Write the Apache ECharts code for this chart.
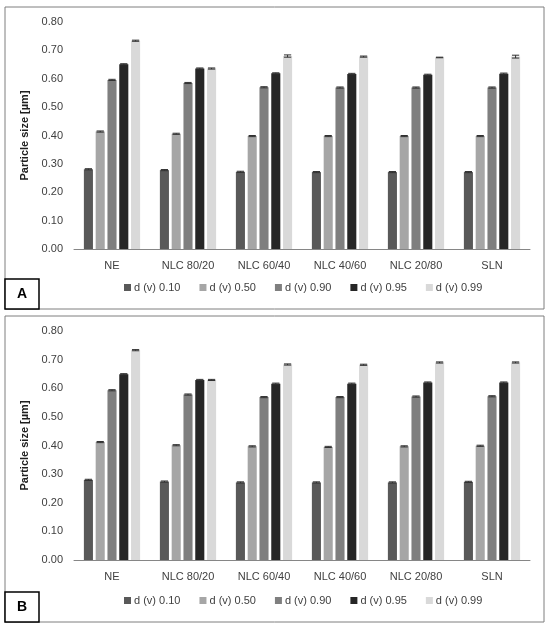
<!DOCTYPE html>
<html lang="en">
<head>
<meta charset="UTF-8">
<title>Particle size</title>
<script src="https://cdn.jsdelivr.net/npm/echarts@6/dist/echarts.min.js"></script>
<style>
  html, body { margin: 0; padding: 0; background: #fff; }
  #main { width: 550px; height: 628px; }
</style>
</head>
<body>
<div id="main"></div>
<script>
// categories and series names
var categories = ['NE', 'NLC 80/20', 'NLC 60/40', 'NLC 40/60', 'NLC 20/80', 'SLN'];
var seriesNames = ['d (v) 0.10', 'd (v) 0.50', 'd (v) 0.90', 'd (v) 0.95', 'd (v) 0.99'];
var yTicks = [0, 0.8, 0.1]; // min, max, step

// panel A values (µm)
var d10A = [0.281, 0.278, 0.272, 0.271, 0.271, 0.271];
var d50A = [0.414, 0.406, 0.398, 0.398, 0.398, 0.398];
var d90A = [0.596, 0.585, 0.570, 0.569, 0.569, 0.569];
var d95A = [0.651, 0.636, 0.619, 0.617, 0.614, 0.618];
var d99A = [0.734, 0.636, 0.680, 0.678, 0.675, 0.678];
// panel A standard deviations (one row per series)
var errA = [
  [0.002, 0.002, 0.002, 0.002, 0.002, 0.002],
  [0.002, 0.002, 0.002, 0.002, 0.002, 0.002],
  [0.002, 0.002, 0.002, 0.002, 0.002, 0.002],
  [0.002, 0.002, 0.002, 0.002, 0.002, 0.002],
  [0.002, 0.002, 0.004, 0.002, 0.001, 0.005]
];

// panel B values (µm)
var d10B = [0.280, 0.274, 0.271, 0.271, 0.271, 0.273];
var d50B = [0.412, 0.401, 0.397, 0.395, 0.397, 0.399];
var d90B = [0.593, 0.578, 0.569, 0.569, 0.571, 0.572];
var d95B = [0.649, 0.629, 0.616, 0.616, 0.620, 0.620];
var d99B = [0.733, 0.629, 0.683, 0.682, 0.690, 0.690];
var errB = [
  [0.002, 0.002, 0.002, 0.002, 0.002, 0.002],
  [0.002, 0.002, 0.002, 0.002, 0.002, 0.002],
  [0.002, 0.002, 0.002, 0.002, 0.002, 0.002],
  [0.002, 0.002, 0.002, 0.002, 0.002, 0.002],
  [0.002, 0.002, 0.002, 0.002, 0.002, 0.002]
];

var colors = ['#595959', '#a6a6a6', '#7f7f7f', '#262626', '#d9d9d9'];
var FONT = 'Liberation Sans';
var GAP = 0.3, CATGAP = 0.26;

// error bar drawn on top of bar j
function errRender(j) {
  return function (params, api) {
    var n = seriesNames.length;
    var band = api.size([1, 0])[0];
    var bw = band * (1 - CATGAP) / (n + (n - 1) * GAP);
    var total = n * bw + (n - 1) * bw * GAP;
    var off = -total / 2 + j * bw * (1 + GAP) + bw / 2;
    var v = api.value(1), e = api.value(2);
    var top = api.coord([api.value(0), v + e]);
    var bot = api.coord([api.value(0), v - e]);
    var x = top[0] + off, half = bw * 0.4;
    var st = { stroke: '#303030', lineWidth: 1 };
    return {
      type: 'group',
      children: [
        { type: 'line', shape: { x1: x, y1: top[1], x2: x, y2: bot[1] }, style: st },
        { type: 'line', shape: { x1: x - half, y1: top[1], x2: x + half, y2: top[1] }, style: st },
        { type: 'line', shape: { x1: x - half, y1: bot[1], x2: x + half, y2: bot[1] }, style: st }
      ]
    };
  };
}

function panelSeries(vals, errs, idx) {
  var out = [];
  vals.forEach(function (arr, j) {
    out.push({
      name: seriesNames[j], type: 'bar', xAxisIndex: idx, yAxisIndex: idx,
      data: arr, barGap: (GAP * 100) + '%', barCategoryGap: (CATGAP * 100) + '%',
      itemStyle: { color: colors[j] }
    });
  });
  vals.forEach(function (arr, j) {
    out.push({
      type: 'custom', xAxisIndex: idx, yAxisIndex: idx, z: 5,
      renderItem: errRender(j),
      data: arr.map(function (v, i) { return [i, v, errs[j][i]]; }),
      encode: { x: 0, y: 1 }, silent: true
    });
  });
  return out;
}

function xAxis(idx) {
  return {
    type: 'category', gridIndex: idx, data: categories,
    axisLine: { lineStyle: { color: '#868686', width: 1 } },
    axisTick: { show: false },
    axisLabel: { color: '#404040', fontFamily: FONT, fontSize: 11, margin: 11 }
  };
}
function yAxis(idx) {
  return {
    type: 'value', gridIndex: idx, min: yTicks[0], max: yTicks[1], interval: yTicks[2],
    name: 'Particle size [µm]', nameLocation: 'middle', nameRotate: 90, nameGap: 40,
    nameTextStyle: { color: '#202020', fontFamily: FONT, fontSize: 11, fontWeight: 'bold' },
    axisLine: { show: false }, axisTick: { show: false }, splitLine: { show: false },
    axisLabel: { color: '#404040', fontFamily: FONT, fontSize: 11, margin: 11,
      formatter: function (v) { return v.toFixed(2); } }
  };
}
function legend(top) {
  return {
    data: seriesNames, top: top, left: 119, itemWidth: 7, itemHeight: 7, itemGap: 19,
    icon: 'rect', textStyle: { color: '#404040', fontFamily: FONT, fontSize: 11, padding: [0, 0, 0, -2] }
  };
}
function panelBox(y, h, letter) {
  return [
    { type: 'rect', shape: { x: 5, y: y, width: 539, height: h },
      style: { fill: 'none', stroke: '#7f7f7f', lineWidth: 1 } },
    { type: 'rect', shape: { x: 5, y: y + h - 30, width: 34, height: 30 },
      style: { fill: '#fff', stroke: '#000', lineWidth: 1.5 } },
    { type: 'text', x: 22, y: y + h - 15,
      style: { text: letter, font: 'bold 14px ' + FONT, fill: '#000', textAlign: 'center', textVerticalAlign: 'middle' } }
  ];
}

var chart = echarts.init(document.getElementById('main'));
chart.setOption({
  animation: false,
  grid: [
    { left: 74, right: 20, top: 22, height: 227 },
    { left: 74, right: 20, top: 331, height: 229 }
  ],
  xAxis: [xAxis(0), xAxis(1)],
  yAxis: [yAxis(0), yAxis(1)],
  legend: [legend(277), legend(590)],
  graphic: panelBox(7, 302, 'A').concat(panelBox(316, 306, 'B')),
  series: panelSeries([d10A, d50A, d90A, d95A, d99A], errA, 0)
    .concat(panelSeries([d10B, d50B, d90B, d95B, d99B], errB, 1))
});
</script>
</body>
</html>
